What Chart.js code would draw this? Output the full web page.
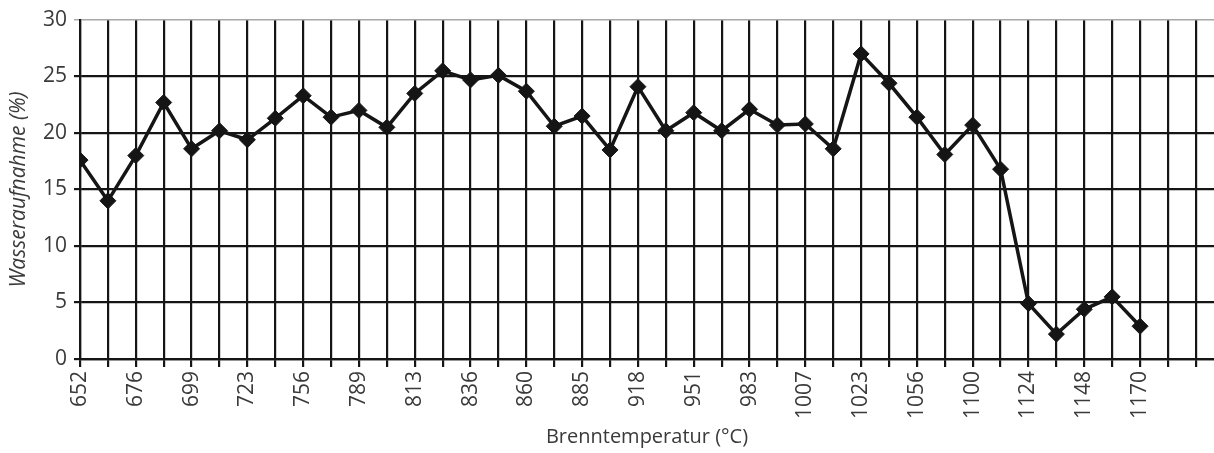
<!DOCTYPE html>
<html>
<head>
<meta charset="utf-8">
<script src="https://cdn.jsdelivr.net/npm/chart.js@4/dist/chart.umd.min.js"></script>
<style>
  body { margin: 0; background: #fff; }
  canvas { display: block; }
</style>
</head>
<body>
<canvas id="chart" width="1214" height="453"></canvas>
<script>
'use strict';

// temperature labels, every other grid line is unlabeled
var tickLabels = ['652', '', '676', '', '699', '', '723', '', '756', '', '789', '', '813', '', '836', '', '860', '', '885', '',
	'918', '', '951', '', '983', '', '1007', '', '1023', '', '1056', '', '1100', '', '1124', '', '1148', '', '1170', '', ''];

// Wasseraufnahme in %
var waterUptake = [17.6, 14.0, 18.0, 22.7, 18.6, 20.2, 19.4, 21.3, 23.3, 21.4, 22.0, 20.5, 23.5, 25.5, 24.7, 25.1, 23.7, 20.6,
	21.5, 18.5, 24.1, 20.2, 21.8, 20.2, 22.1, 20.7, 20.8, 18.6, 27.0, 24.4, 21.4, 18.1, 20.7, 16.8, 4.9, 2.2, 4.4, 5.5, 2.9];

var yTicks = [0, 5, 10, 15, 20, 25, 30];

var points = waterUptake.map(function(v, i) {
	return {x: i, y: v};
});

var txtColor = '#3a3a3a';
var lineColor = '#151515';

var ctx = document.getElementById('chart').getContext('2d');
var chart = new Chart(ctx, {
	type: 'line',
	data: {
		datasets: [{
			data: points,
			borderColor: lineColor,
			borderWidth: 3.5,
			tension: 0,
			pointStyle: 'rectRot',
			pointRadius: 8,
			pointBackgroundColor: lineColor,
			pointBorderColor: lineColor,
			pointBorderWidth: 1
		}]
	},
	options: {
		responsive: false,
		animation: false,
		layout: {
			autoPadding: false,
			padding: {top: 20, right: 0, left: 0, bottom: 0}
		},
		plugins: {
			legend: {display: false},
			tooltip: {enabled: false}
		},
		scales: {
			x: {
				type: 'linear',
				min: 0,
				max: 40.65,
				afterBuildTicks: function(scale) {
					scale.ticks = tickLabels.map(function(t, i) {
						return {value: i};
					});
				},
				afterFit: function(scale) {
					scale.height = 94;
					scale.paddingLeft = 0;
					scale.paddingRight = 0;
				},
				ticks: {
					autoSkip: false,
					maxRotation: 90,
					minRotation: 90,
					padding: 4,
					color: txtColor,
					font: {family: 'Open Sans', size: 21},
					callback: function(value) {
						return tickLabels[value] || '';
					}
				},
				grid: {
					color: lineColor,
					lineWidth: 2.2,
					tickLength: 8
				},
				border: {color: lineColor, width: 2.2},
				title: {
					display: true,
					text: 'Brenntemperatur (°C)',
					color: txtColor,
					font: {family: 'Open Sans', size: 20},
					padding: {top: 2, bottom: 4}
				}
			},
			y: {
				min: 0,
				max: 30,
				afterBuildTicks: function(scale) {
					scale.ticks = yTicks.map(function(v) {
						return {value: v};
					});
				},
				afterFit: function(scale) {
					scale.width = 80;
					scale.paddingTop = 0;
					scale.paddingBottom = 0;
				},
				ticks: {
					padding: 7,
					color: txtColor,
					font: {family: 'Open Sans', size: 21}
				},
				grid: {
					color: function(c) {
						return c.tick && c.tick.value === 30 ? '#a8a8a8' : lineColor;
					},
					lineWidth: function(c) {
						return c.tick && c.tick.value === 30 ? 1.5 : 2.2;
					},
					tickLength: 6
				},
				border: {color: lineColor, width: 2.2},
				title: {
					display: true,
					text: 'Wasseraufnahme (%)',
					color: txtColor,
					font: {family: 'Open Sans', size: 21, style: 'italic'},
					padding: {top: 6, bottom: 0}
				}
			}
		}
	}
});
</script>
</body>
</html>
